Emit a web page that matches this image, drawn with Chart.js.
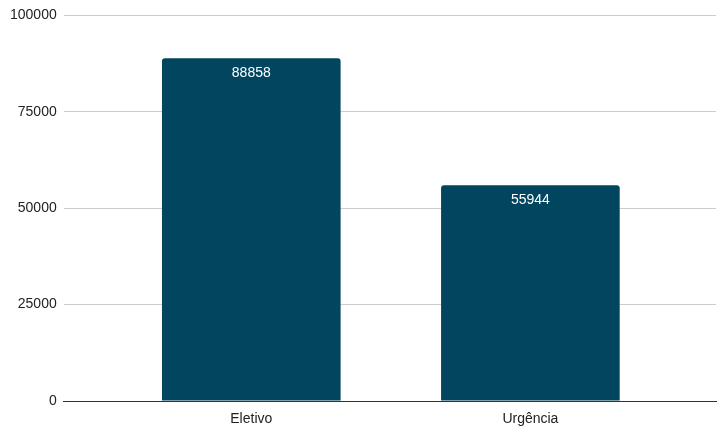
<!DOCTYPE html>
<html>
<head>
<meta charset="utf-8">
<script src="https://cdn.jsdelivr.net/npm/chart.js@4"></script>
<style>
  html, body { margin: 0; padding: 0; background: #fff; }
  #wrap { width: 719px; height: 432px; }
</style>
</head>
<body>
<div id="wrap"><canvas id="barChart" width="719" height="432"></canvas></div>
<script>
var categories = ["Eletivo", "Urgência"];
var values = [88858, 55944];
var yTicks = [0, 25000, 50000, 75000, 100000];

var FONT = "'Liberation Sans', Arial, sans-serif";

// writes the value just under the top of each bar
var barLabels = {
  id: "barLabels",
  afterDatasetsDraw: function (chart) {
    var ctx = chart.ctx;
    var meta = chart.getDatasetMeta(0);
    ctx.save();
    ctx.fillStyle = "#ffffff";
    ctx.font = "14px " + FONT;
    ctx.textAlign = "center";
    ctx.textBaseline = "middle";
    meta.data.forEach(function (bar, i) {
      ctx.fillText(String(values[i]), bar.x, bar.y + 15);
    });
    ctx.restore();
  }
};

document.addEventListener("DOMContentLoaded", function () {
  var ctx = document.getElementById("barChart").getContext("2d");
  new Chart(ctx, {
    type: "bar",
    data: {
      datasets: [
        {
          data: values.map(function (v, i) { return { x: i, y: v }; }),
          backgroundColor: "#02455f",
          borderRadius: { topLeft: 3, topRight: 3 },
          borderSkipped: "bottom",
          barPercentage: 0.64,
          categoryPercentage: 1.0
        }
      ]
    },
    options: {
      responsive: false,
      animation: false,
      layout: { padding: { left: 3, right: 3, top: 6, bottom: 0 } },
      plugins: {
        legend: { display: false },
        tooltip: { enabled: false }
      },
      scales: {
        x: {
          type: "linear",
          offset: false,
          min: -0.672,
          max: 1.665,
          afterBuildTicks: function (axis) {
            axis.ticks = categories.map(function (c, i) { return { value: i }; });
          },
          afterFit: function (axis) { axis.height = 31; },
          grid: { display: false, drawTicks: false },
          border: { color: "#333333", width: 1 },
          ticks: {
            color: "#222222",
            font: { size: 14, family: FONT },
            padding: 10,
            callback: function (v) { return categories[v]; }
          }
        },
        y: {
          min: 0,
          max: 100000,
          afterBuildTicks: function (axis) {
            axis.ticks = yTicks.map(function (v) { return { value: v }; });
          },
          grid: { color: "#cccccc", drawTicks: false },
          border: { display: false },
          ticks: {
            color: "#222222",
            font: { size: 14, family: FONT },
            padding: 7,
            callback: function (v) { return String(v); }
          }
        }
      }
    },
    plugins: [barLabels]
  });
});
</script>
</body>
</html>
